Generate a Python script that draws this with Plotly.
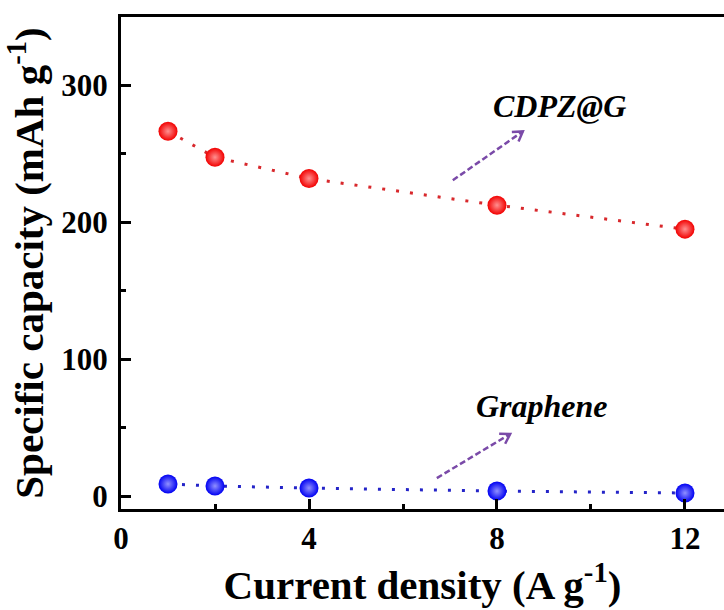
import math
import plotly.graph_objects as go

current_density = [1, 2, 4, 8, 12]
cdpz_capacity = [266.5, 247.5, 232.0, 212.5, 195.0]
graphene_capacity = [8.8, 7.3, 5.8, 3.6, 2.2]

FONT = "Liberation Serif, Times New Roman, serif"

W, H = 724, 610
M = dict(l=121, r=0, t=17, b=101)
XR = [0, 12.83]
YR = [-9.5, 350]
px_x = (W - M["l"] - M["r"]) / (XR[1] - XR[0])
px_y = (H - M["t"] - M["b"]) / (YR[1] - YR[0])

fig = go.Figure()
fig.add_trace(go.Scatter(
    x=current_density, y=cdpz_capacity, mode="lines+markers", name="CDPZ@G",
    line=dict(color="#d8282c", width=3, dash="3px,11px"),
    marker=dict(size=19, color="#f20000", line=dict(width=0),
                gradient=dict(type="radial", color="#ff9090")),
))
fig.add_trace(go.Scatter(
    x=current_density, y=graphene_capacity, mode="lines+markers", name="Graphene",
    line=dict(color="#2424c8", width=3, dash="3px,11px"),
    marker=dict(size=19, color="#0000f2", line=dict(width=0),
                gradient=dict(type="radial", color="#9090ff")),
))

arrow_color = "#7a4aa8"
arrows = [((7.06, 230.7), (8.55, 266.4)), ((6.72, 13.1), (8.28, 45.3))]
for (x0, y0), (x1, y1) in arrows:
    fig.add_shape(type="line", x0=x0, y0=y0, x1=x1, y1=y1, xref="x", yref="y",
                  line=dict(color=arrow_color, width=2.5, dash="6px,3px"))
    dx, dy = (x1 - x0) * px_x, (y1 - y0) * px_y
    n = math.hypot(dx, dy)
    ux, uy = dx / n, dy / n
    L = 11
    pts = []
    for ang in (math.radians(32), -math.radians(32)):
        rx = ux * math.cos(ang) - uy * math.sin(ang)
        ry = ux * math.sin(ang) + uy * math.cos(ang)
        pts.append((x1 - L * rx / px_x, y1 - L * ry / px_y))
    path = f"M {pts[0][0]},{pts[0][1]} L {x1},{y1} L {pts[1][0]},{pts[1][1]}"
    fig.add_shape(type="path", path=path, xref="x", yref="y",
                  line=dict(color=arrow_color, width=2.5))

fig.add_annotation(x=9.34, y=285, text="CDPZ@G", showarrow=False,
                   font=dict(family=FONT, size=32, color="black", weight="bold", style="italic"))
fig.add_annotation(x=8.96, y=66, text="Graphene", showarrow=False,
                   font=dict(family=FONT, size=32, color="black", weight="bold", style="italic"))

fig.update_layout(
    width=W, height=H, showlegend=False,
    paper_bgcolor="white", plot_bgcolor="white",
    margin=M,
    font=dict(family=FONT, color="black"),
)
fig.update_xaxes(
    range=XR, tickvals=[0, 4, 8, 12], ticks="inside", ticklen=10, tickwidth=2.5,
    tickcolor="black", showline=True, linewidth=3, linecolor="black", mirror=True,
    showgrid=False, zeroline=False,
    minor=dict(tickvals=[2, 6, 10], ticks="inside", ticklen=5, tickwidth=2.5, tickcolor="black"),
    tickfont=dict(family=FONT, size=31, color="black", weight="bold"),
    title=dict(text="Current density (A g<sup>-1</sup>)",
               font=dict(family=FONT, size=41, color="black", weight="bold"), standoff=14),
)
fig.update_yaxes(
    range=YR, tickvals=[0, 100, 200, 300], ticks="inside", ticklen=10, tickwidth=2.5,
    tickcolor="black", showline=True, linewidth=3, linecolor="black", mirror=False,
    showgrid=False, zeroline=False,
    minor=dict(tickvals=[50, 150, 250], ticks="inside", ticklen=5, tickwidth=2.5, tickcolor="black"),
    tickfont=dict(family=FONT, size=31, color="black", weight="bold"), ticklabelstandoff=4,
    title=dict(text="Specific capacity (mAh g<sup>-1</sup>)",
               font=dict(family=FONT, size=41, color="black", weight="bold"), standoff=5),
)

fig.write_html("out.html")
